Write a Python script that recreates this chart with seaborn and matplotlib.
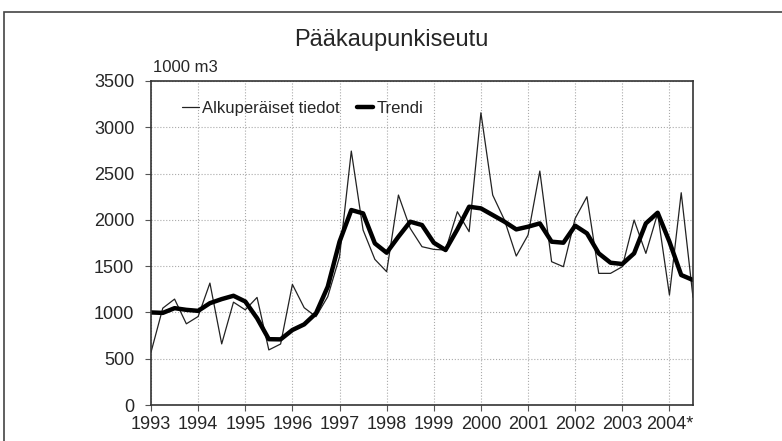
import matplotlib.pyplot as plt
import matplotlib.patches as patches
import seaborn as sns
import numpy as np
import pandas as pd

# Quarterly values 1993 Q1 - 2004 Q3 (1000 m3)
years = ['1993', '1994', '1995', '1996', '1997', '1998', '1999',
         '2000', '2001', '2002', '2003', '2004*']
original = [570, 1046, 1144, 877, 956, 1317, 660, 1111, 1028, 1162, 595, 659,
            1303, 1051, 954, 1170, 1600, 2743, 1890, 1573, 1440, 2268, 1908, 1710,
            1681, 1674, 2088, 1872, 3157, 2268, 1998, 1609, 1836, 2527, 1548, 1494,
            2016, 2250, 1422, 1422, 1494, 1998, 1638, 2070, 1188, 2293, 1163]
trend = [1000, 995, 1046, 1028, 1017, 1100, 1144, 1180, 1118, 938, 711, 709,
         810, 871, 990, 1278, 1764, 2106, 2070, 1746, 1645, 1818, 1980, 1944,
         1753, 1674, 1897, 2142, 2124, 2052, 1980, 1897, 1926, 1962, 1764, 1753,
         1937, 1854, 1638, 1537, 1523, 1638, 1962, 2077, 1764, 1404, 1350]

df = pd.DataFrame({'q': np.arange(len(original)), 'orig': original, 'trend': trend})

sns.set_style('white')
plt.rcParams['font.family'] = ['Liberation Sans', 'DejaVu Sans']

fig = plt.figure(figsize=(7.82, 4.41), dpi=100)
ax = fig.add_axes([151 / 782, 36 / 441, 542 / 782, 324 / 441])

# frame around the whole chart
fig.patches.append(patches.Rectangle((4 / 782, -0.05), 1.0, (441 - 12) / 441 + 0.05,
                                     transform=fig.transFigure, fill=False,
                                     edgecolor='#444444', linewidth=1.2))

sns.lineplot(data=df, x='q', y='orig', ax=ax, color='#222222', linewidth=0.9,
             label='Alkuperäiset tiedot')
sns.lineplot(data=df, x='q', y='trend', ax=ax, color='black', linewidth=3.2,
             label='Trendi')

ax.set_xlim(0, len(original) - 1)
ax.set_ylim(0, 3500)
ax.set_yticks(np.arange(0, 3501, 500))
ax.set_xticks(np.arange(0, len(original), 4))
ax.set_xticklabels(years)
ax.tick_params(axis='both', labelsize=13, length=4, color='#555555', direction='out',
               bottom=True, left=True)
ax.tick_params(axis='y', pad=8)
ax.tick_params(axis='x', pad=4)
ax.set_xlabel('')
ax.set_ylabel('')
ax.grid(True, color='#aaaaaa', linestyle=':', linewidth=0.8)
for s in ax.spines.values():
    s.set_visible(True)
    s.set_color('#333333')
    s.set_linewidth(1.2)

ax.legend(loc='upper left', ncol=2, frameon=False, fontsize=12,
          bbox_to_anchor=(0.03, 0.985), handlelength=1.0, handletextpad=0.2,
          columnspacing=1.0)

fig.text(391 / 782, 1 - 40 / 441, 'Pääkaupunkiseutu', fontsize=17,
         ha='center', va='center')
fig.text(153 / 782, 1 - 68 / 441, '1000 m3', fontsize=12, ha='left', va='center')

fig.savefig('out.png', dpi=100)
